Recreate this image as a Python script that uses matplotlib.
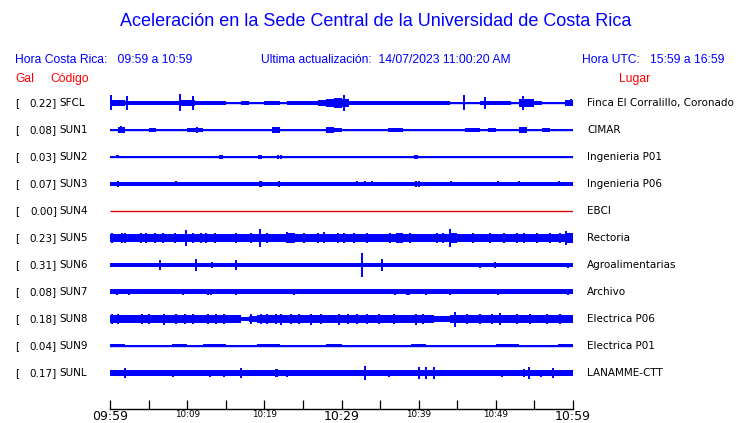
import numpy as np
import matplotlib
matplotlib.use('Agg')
import matplotlib.pyplot as plt

# station codes, peak values (Gal) and place names
codes = ['SFCL', 'SUN1', 'SUN2', 'SUN3', 'SUN4', 'SUN5', 'SUN6', 'SUN7', 'SUN8', 'SUN9', 'SUNL']
gal = [0.22, 0.08, 0.03, 0.07, 0.00, 0.23, 0.31, 0.08, 0.18, 0.04, 0.17]
places = ['Finca El Corralillo, Coronado', 'CIMAR', 'Ingenieria P01', 'Ingenieria P06', 'EBCI',
          'Rectoria', 'Agroalimentarias', 'Archivo', 'Electrica P06', 'Electrica P01', 'LANAMME-CTT']

# envelope half-width (px) per minute, 09:59 -> 10:59
env_sfcl = [2.0, 2.3, 1.8, 1.5, 1.2, 1.0, 1.7, 1.7, 1.5, 2.3, 2.0, 1.8, 1.7, 1.7, 1.5,
            0.5, 0.4, 1.0, 0.5, 0.3, 1.2, 1.5, 0.6, 1.6, 1.6, 1.6, 1.5, 2.0, 3.0, 4.0,
            3.5, 1.2, 1.3, 1.6, 1.4, 1.0, 1.5, 1.6, 1.5, 1.6, 1.6, 1.5, 1.0, 1.0, 0.3,
            0.5, 0.5, 0.6, 1.2, 1.5, 1.6, 1.2, 0.5, 3.0, 3.0, 1.2, 0.5, 0.2, 0.2, 2.5]
env_sun1 = [0.6, 2.5, 0.4, 0.2, 0.4, 1.2, 0.2, 0.4, 0.4, 0.8, 1.2, 1.5, 0.8, 0.4, 0.4,
            0.4, 0.6, 0.1, 0.1, 0.4, 0.2, 2.5, 0.8, 0.4, 0.1, 0.4, 0.1, 0.4, 2.2, 1.2,
            0.4, 0.1, 0.1, 0.4, 0.4, 0.2, 1.5, 1.2, 0.2, 0.4, 0.4, 0.6, 0.1, 0.1, 0.4,
            0.2, 1.0, 1.0, 0.2, 1.0, 0.4, 0.4, 0.4, 2.2, 0.8, 0.4, 1.0, 0.2, 0.8, 0.8]
env_sun2 = [0.0] * 60
env_sun3 = [1.8] * 60
env_sun4 = [0.0] * 60
env_sun5 = [3.0, 3.3, 3.0, 3.3, 3.5, 3.2, 3.0, 3.0, 3.2, 3.5, 3.2, 3.0, 3.2, 3.0, 3.2,
            3.0, 3.0, 3.2, 3.0, 3.8, 3.2, 3.0, 3.5, 4.0, 3.3, 3.5, 3.3, 3.8, 3.0, 3.2,
            3.0, 3.2, 3.0, 3.0, 3.0, 3.0, 3.5, 4.0, 3.2, 3.0, 3.2, 3.0, 3.0, 3.5, 4.2,
            3.2, 3.3, 3.0, 3.0, 3.0, 3.0, 3.2, 3.0, 3.5, 3.5, 3.2, 3.0, 3.2, 3.5, 4.0]
env_sun6 = [1.5, 1.5, 1.2, 1.5, 1.5, 1.5, 1.6, 1.5, 1.5, 1.5, 1.5, 1.6, 1.5, 1.2, 1.5,
            1.5, 1.6, 1.5, 1.5, 1.5, 1.5, 1.2, 1.5, 1.5, 1.5, 1.5, 1.5, 1.5, 1.5, 1.5,
            1.5, 1.5, 1.6, 1.5, 1.5, 1.6, 1.5, 1.5, 1.5, 1.5, 1.5, 1.5, 1.5, 1.5, 1.5,
            1.5, 1.5, 1.5, 1.6, 1.6, 1.5, 1.5, 1.5, 1.5, 1.5, 1.5, 1.5, 1.5, 1.5, 1.6]
env_sun7 = [1.9] * 60
env_sun8 = [3.3, 3.5, 3.0, 3.0, 3.0, 3.0, 3.3, 3.8, 3.5, 3.2, 3.3, 3.0, 3.3, 3.0, 3.3,
            3.3, 3.0, 1.5, 2.5, 3.0, 3.0, 3.5, 3.5, 3.3, 3.3, 3.3, 3.8, 3.5, 3.0, 3.3,
            3.0, 3.2, 3.0, 3.2, 3.0, 3.0, 3.0, 3.0, 3.3, 3.5, 3.3, 3.0, 2.0, 2.5, 3.3,
            3.0, 3.2, 3.0, 3.0, 3.3, 3.5, 3.3, 3.3, 3.3, 3.3, 3.3, 3.5, 3.0, 3.3, 3.0]
env_sun9 = [0.9, 0.9, 0.6, 0.2, 0.2, 0.2, 0.2, 0.2, 0.9, 0.9, 0.6, 0.2, 0.9, 0.9, 0.9,
            0.2, 0.2, 0.2, 0.2, 0.9, 0.9, 0.9, 0.6, 0.2, 0.6, 0.2, 0.6, 0.2, 0.9, 0.9,
            0.6, 0.2, 0.6, 0.2, 0.2, 0.2, 0.2, 0.2, 0.6, 0.9, 0.9, 0.2, 0.2, 0.2, 0.2,
            0.2, 0.6, 0.6, 0.2, 0.6, 0.9, 0.9, 0.9, 0.2, 0.2, 0.2, 0.2, 0.6, 0.9, 0.9]
env_sunl = [1.9] * 60

# spikes: (minute after 09:59, half-height px)
spk_sfcl = [(0.1, 7.5), (2.2, 7), (9.1, 8.5), (10.8, 7), (30.3, 8), (45.9, 7.5), (48.6, 6),
            (53.5, 7), (59.8, 3.5)]
spk_sun1 = [(1.4, 3.5), (11.3, 3), (21.6, 3.3), (28.5, 3.3), (53.6, 2.5), (56.9, 2.2)]
spk_sun2 = [(0.9, 1.5), (1.1, 1.5), (1.7, 1.3), (8.4, 1.3), (9.2, 1.3), (10.9, 1.0), (14.2, 1.6),
            (14.5, 1.6), (19.3, 1.7), (19.6, 1.7), (21.8, 1.6), (22.1, 1.6), (32.0, 1.2),
            (33.8, 1.4), (34.1, 1.4), (39.5, 1.6), (39.8, 1.6), (40.7, 1.2), (44.2, 0.9),
            (47.2, 1.1), (49.3, 1.0), (50.1, 1.3), (50.6, 1.3), (53.0, 1.0), (58.2, 1.0), (59.0, 0.9)]
spk_sun3 = [(1.1, 2.8), (8.5, 2.5), (9.2, 2.3), (19.4, 3.3), (19.6, 2.8), (21.9, 2.8), (32.0, 2.5),
            (33.0, 2.5), (34.0, 2.5), (39.6, 2.8), (40.0, 2.8), (44.2, 2.5), (50.3, 2.5), (53.0, 2.5),
            (58.2, 2.5)]
spk_sun4 = []
spk_sun5 = [(0.2, 5), (1.5, 5), (1.9, 5), (4.0, 5), (4.7, 5), (5.8, 5), (6.9, 5),
            (8.4, 5), (9.9, 8), (10.8, 5), (11.8, 5), (12.5, 5), (13.6, 5), (16.3, 5),
            (18.3, 5), (19.4, 9), (20.4, 5), (23.0, 5.5), (25.2, 5), (26.9, 5), (27.7, 5.5),
            (29.5, 5), (30.3, 5), (31.6, 5), (33.3, 5), (36.3, 5), (37.4, 5),
            (38.9, 5), (42.4, 5), (43.2, 5), (44.1, 9), (47.1, 5), (49.2, 5),
            (51.0, 5), (52.7, 5), (53.6, 5), (55.3, 5), (57.0, 5), (58.3, 5), (59.1, 7)]
spk_sun6 = [(6.5, 5), (11.1, 6), (13.2, 3), (16.3, 5), (32.7, 12), (35.3, 6), (48.0, 2.5),
            (49.9, 3), (59.4, 2.5)]
spk_sun7 = [(0.9, 2.5), (2.4, 2.5), (6.0, 2.3), (8.5, 2.3), (9.5, 2.5), (11.8, 2.3), (12.7, 2.5),
            (13.1, 2.5), (16.3, 2.5), (18.3, 2.3), (23.9, 2.5), (28.2, 2.3), (29.0, 2.3),
            (31.8, 2.3), (35.3, 2.3), (36.9, 2.5), (38.5, 3), (38.8, 3), (41.0, 2.5), (44.1, 2.5),
            (47.9, 2.3), (50.3, 2.5), (53.6, 2.3), (57.6, 2.3), (59.3, 2.5)]
spk_sun8 = [(0.2, 5), (1.1, 5), (4.1, 5), (5.0, 5), (7.0, 5.5), (8.5, 5), (9.7, 5), (10.8, 5),
            (12.7, 5), (13.8, 5), (14.8, 5), (18.3, 5), (19.6, 5), (20.4, 5), (21.5, 5),
            (22.2, 5.5), (23.4, 5), (24.5, 5), (26.0, 5.5), (27.3, 5), (29.7, 5.5), (30.8, 5),
            (32.0, 5), (33.3, 5), (34.8, 5), (36.8, 5), (39.6, 5.5), (40.6, 5), (44.7, 7.5),
            (46.2, 5), (47.9, 5), (49.5, 5), (50.6, 6), (52.7, 5), (54.4, 5), (56.6, 5), (58.3, 5)]
spk_sun9 = []
spk_sunl = [(2.0, 5), (8.2, 3.5), (12.9, 3.5), (14.8, 3.5), (17.0, 5), (18.5, 2.5), (21.5, 4),
            (21.7, 4), (23.0, 3.5), (24.7, 2.5), (30.8, 3), (33.1, 7), (34.0, 3), (36.1, 3.5),
            (38.0, 2.5), (40.0, 6), (41.0, 6), (42.0, 5.5), (49.7, 3), (50.8, 3.5), (53.6, 4.5),
            (54.3, 5.5), (55.9, 3.5), (57.4, 5), (59.8, 3)]

envs = [env_sfcl, env_sun1, env_sun2, env_sun3, env_sun4, env_sun5, env_sun6, env_sun7,
        env_sun8, env_sun9, env_sunl]
spikes = [spk_sfcl, spk_sun1, spk_sun2, spk_sun3, spk_sun4, spk_sun5, spk_sun6, spk_sun7,
          spk_sun8, spk_sun9, spk_sunl]

tick_min = [0, 5, 10, 15, 20, 25, 30, 35, 40, 45, 50, 55, 60]
tick_lbl = ['09:59', '', '10:09', '', '10:19', '', '10:29', '', '10:39', '', '10:49', '', '10:59']

W, H = 740, 423
ROW = 27.0   # px between traces
PEN = 0.6    # px added to the envelope for the pen width
BLUE = '#0000ff'
RED = '#ff0000'

fig = plt.figure(figsize=(W / 100, H / 100), dpi=100)
fig.patch.set_facecolor('white')


def fx(x):
    return x / W


def fy(y):
    return 1 - y / H


# trace area: x 110..573 px, rows from y=103 every 27 px, time axis at y=409
x0, x1 = 110, 573
ytop, ybot = 89.5, 409
ax = fig.add_axes([fx(x0), fy(ybot), (x1 - x0) / W, (ybot - ytop) / H])
ax.set_xlim(0, 60)
ax.set_ylim((ybot - 103) / ROW, (ytop - 103) / ROW)

edges = np.arange(61)
for i, (env, spk) in enumerate(zip(envs, spikes)):
    if codes[i] == 'SUN4':
        ax.plot([0, 60], [i, i], color='#e00000', lw=1.0, solid_capstyle='butt')
        continue
    e = (np.array(env + [env[-1]]) + PEN) / ROW
    ax.fill_between(edges, i - e, i + e, step='post', color=BLUE, lw=0)
    ax.plot([0, 60], [i, i], color=BLUE, lw=1.0, solid_capstyle='butt')
    for m, a in spk:
        ax.vlines(m, i - a / ROW, i + a / ROW, color=BLUE, lw=1.4)

for s in ['left', 'right', 'top']:
    ax.spines[s].set_visible(False)
ax.spines['bottom'].set_linewidth(1.0)
ax.set_yticks([])
ax.set_xticks(tick_min)
ax.set_xticklabels(tick_lbl)
ax.tick_params(axis='x', direction='in', length=6.5, width=0.9, pad=1, colors='black')
for t in ax.get_xticklabels():
    if t.get_text() in ('09:59', '10:29', '10:59'):
        t.set_fontsize(9)
    else:
        t.set_fontsize(6.3)
ax.patch.set_visible(False)

# header texts
fig.text(fx(376), fy(22), 'Aceleración en la Sede Central de la Universidad de Costa Rica',
         ha='center', va='center', color=BLUE, fontsize=13, family='Liberation Sans')
fig.text(fx(15), fy(60), 'Hora Costa Rica:   09:59 a 10:59', ha='left', va='center',
         color=BLUE, fontsize=8.7, family='Liberation Sans')
fig.text(fx(261), fy(60), 'Ultima actualización:  14/07/2023 11:00:20 AM', ha='left', va='center',
         color=BLUE, fontsize=8.7, family='Liberation Sans')
fig.text(fx(725), fy(60), 'Hora UTC:   15:59 a 16:59', ha='right', va='center',
         color=BLUE, fontsize=8.7, family='Liberation Sans')
fig.text(fx(15), fy(79), 'Gal', ha='left', va='center', color=RED, fontsize=8.7,
         family='Liberation Sans')
fig.text(fx(50), fy(79), 'Código', ha='left', va='center', color=RED, fontsize=8.7,
         family='Liberation Sans')
fig.text(fx(650), fy(79), 'Lugar', ha='right', va='center', color=RED, fontsize=8.7,
         family='Liberation Sans')

# station labels
for i in range(len(codes)):
    y = 103 + i * ROW
    fig.text(fx(15), fy(y), '[', ha='left', va='center', fontsize=7.5)
    fig.text(fx(57), fy(y), '%.2f]' % gal[i], ha='right', va='center', fontsize=7.5)
    fig.text(fx(59), fy(y), codes[i], ha='left', va='center', fontsize=7.5)
    fig.text(fx(587), fy(y), places[i], ha='left', va='center', fontsize=7.5)

fig.savefig('out.png', dpi=100, facecolor='white')
